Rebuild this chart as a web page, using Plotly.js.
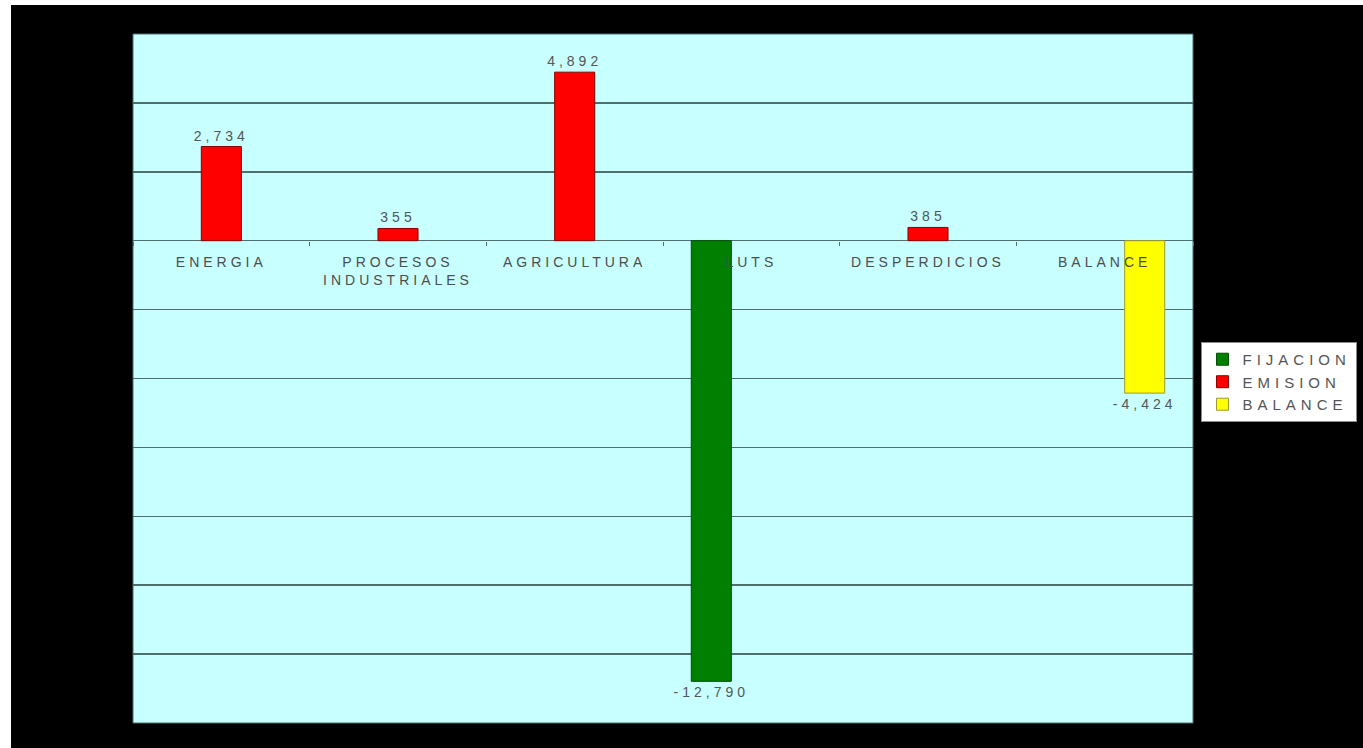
<!DOCTYPE html>
<html>
<head>
<meta charset="utf-8">
<script src="https://cdn.plot.ly/plotly-3.0.1.min.js"></script>
<style>
  html, body { margin: 0; padding: 0; background: #ffffff; overflow: hidden; }
  #chart { position: absolute; left: 11px; top: 5px; width: 1352px; height: 743px; }
  .xtick text { letter-spacing: 4px; }
  .legendtext { letter-spacing: 5px; }
  .bartext { letter-spacing: 4px; }
</style>
</head>
<body>
<div id="chart"></div>
<script>
const categories = ["ENERGIA", "PROCESOS<br>INDUSTRIALES", "AGRICULTURA", "LUTS", "DESPERDICIOS", "BALANCE"];
const fijacion = [null, null, null, -12790, null, null];
const emision = [2734, 355, 4892, null, 385, null];
const balance = [null, null, null, null, null, -4424];
const yRange = [-14000, 6000];
const yStep = 2000;

const fmt = v => (v === null ? "" : v.toLocaleString("en-US"));
const textFont = { family: "Liberation Sans, Arial, sans-serif", size: 14, color: "#555555" };

function barTrace(name, values, color, edge) {
  return {
    type: "bar",
    name: name,
    x: categories,
    y: values,
    text: values.map(fmt),
    textposition: "outside",
    constraintext: "none",
    cliponaxis: false,
    textfont: textFont,
    marker: { color: color, line: { color: edge, width: 1 } },
    hoverinfo: "x+y"
  };
}

const data = [
  barTrace("FIJACION", fijacion, "#007f00", "#004d00"),
  barTrace("EMISION", emision, "#ff0000", "#8a0000"),
  barTrace("BALANCE", balance, "#ffff00", "#9a9a30")
];

const zeroPos = (0 - yRange[0]) / (yRange[1] - yRange[0]);

const layout = {
  width: 1352,
  height: 743,
  paper_bgcolor: "#000000",
  plot_bgcolor: "#c8ffff",
  margin: { l: 122, r: 170, t: 29, b: 25, autoexpand: false },
  barmode: "group",
  bargap: 0.32,
  bargroupgap: 0,
  showlegend: true,
  legend: {
    x: 1.008, y: 0.553, xanchor: "left", yanchor: "top",
    bgcolor: "#ffffff", bordercolor: "#8a8a8a", borderwidth: 1,
    font: { family: "Liberation Sans, Arial, sans-serif", size: 15, color: "#555555" },
    itemwidth: 30, tracegroupgap: 0, traceorder: "normal"
  },
  xaxis: {
    type: "category",
    anchor: "free",
    position: zeroPos,
    layer: "above traces",
    showgrid: false,
    showline: false,
    ticks: "outside",
    tickson: "boundaries",
    ticklen: 4,
    tickcolor: "#4f6f6f",
    ticklabelstandoff: 11,
    tickfont: { family: "Liberation Sans, Arial, sans-serif", size: 14, color: "#4d4d4d" },
    fixedrange: true
  },
  yaxis: {
    range: yRange,
    dtick: yStep,
    tick0: 0,
    showticklabels: false,
    ticks: "",
    showgrid: true,
    gridcolor: "#4f6f6f",
    gridwidth: 1.5,
    zeroline: true,
    zerolinecolor: "#4f6f6f",
    zerolinewidth: 1.5,
    showline: false,
    fixedrange: true
  },
  shapes: [{
    type: "rect", xref: "paper", yref: "paper", x0: 0, x1: 1, y0: 0, y1: 1,
    line: { color: "#4f6f6f", width: 1 }, layer: "below"
  }]
};

Plotly.newPlot("chart", data, layout, { displayModeBar: false, staticPlot: true });
</script>
</body>
</html>
